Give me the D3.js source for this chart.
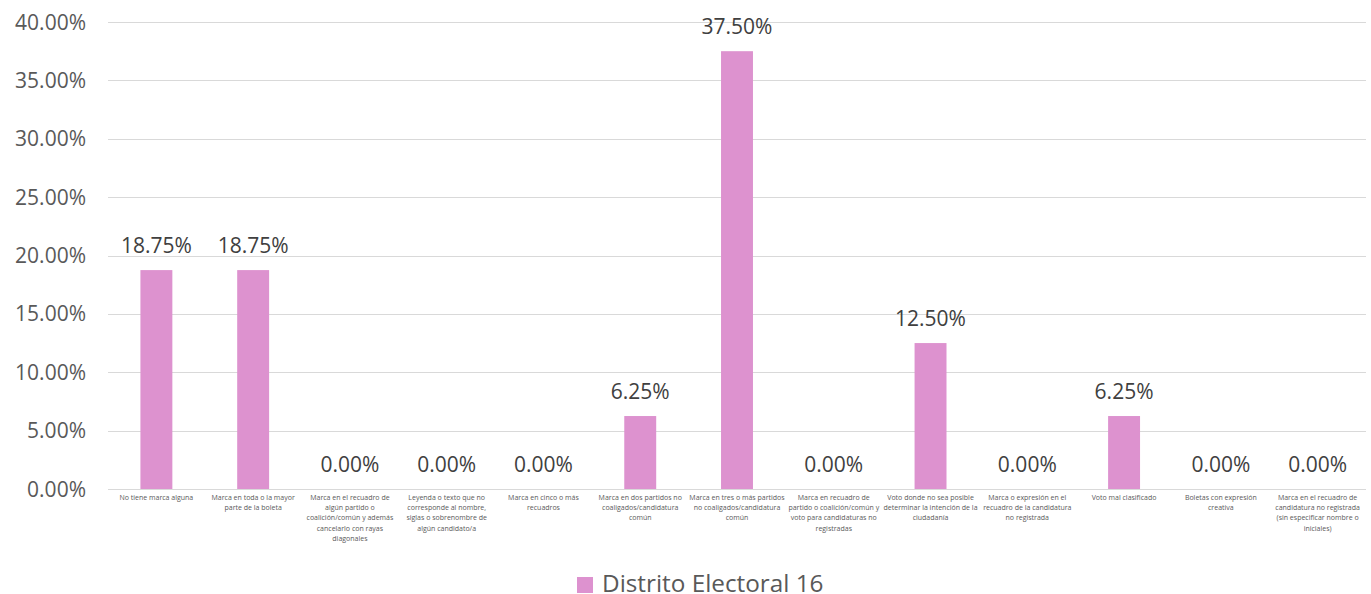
<!DOCTYPE html>
<html><head><meta charset="utf-8">
<script src="https://cdn.jsdelivr.net/npm/d3@7"></script>
<style>body{margin:0;background:#fff}</style>
</head><body>
<svg id="c" width="1371" height="594"></svg>
<script>
const categories = [
  ["No tiene marca alguna"],
  ["Marca en toda o la mayor","parte de la boleta"],
  ["Marca en el recuadro de","algún partido o","coalición/común y además","cancelarlo con rayas","diagonales"],
  ["Leyenda o texto que no","corresponde al nombre,","siglas o sobrenombre de","algún candidato/a"],
  ["Marca en cinco o más","recuadros"],
  ["Marca en dos partidos no","coaligados/candidatura","común"],
  ["Marca en tres o más partidos","no coaligados/candidatura","común"],
  ["Marca en recuadro de","partido o coalición/común y","voto para candidaturas no","registradas"],
  ["Voto donde no sea posible","determinar la intención de la","ciudadanía"],
  ["Marca o expresión en el","recuadro de la candidatura","no registrada"],
  ["Voto mal clasificado"],
  ["Boletas con expresión","creativa"],
  ["Marca en el recuadro de","candidatura no registrada","(sin especificar nombre o","iniciales)"]
];
const values = [0.1875,0.1875,0,0,0,0.0625,0.375,0,0.125,0,0.0625,0,0];
const yTicks = [0,0.05,0.10,0.15,0.20,0.25,0.30,0.35,0.40];
const seriesName = "Distrito Electoral 16";

const svg = d3.select("#c");
const pLeft=108, pRight=1366, pTop=22, pBottom=489;
const x = d3.scaleBand().domain(d3.range(categories.length)).range([pLeft,pRight]).paddingInner(0.67).paddingOuter(0.335);
const y = d3.scaleLinear().domain([0,0.4]).range([pBottom,pTop]);
const fmt = d3.format(".2%");
const font = "'Open Sans', 'Noto Sans', sans-serif";
const col = "#595959";

// gridlines
svg.append("g").selectAll("line").data(yTicks).join("line")
  .attr("x1",pLeft).attr("x2",pRight)
  .attr("y1",d=>Math.round(y(d))+0.5).attr("y2",d=>Math.round(y(d))+0.5)
  .attr("stroke","#d9d9d9").attr("stroke-width",1);

// y labels
svg.append("g").selectAll("text").data(yTicks).join("text")
  .attr("x",86).attr("y",d=>y(d)+7.5).attr("text-anchor","end")
  .attr("font-family",font).attr("font-size",21).attr("fill",col)
  .text(d=>fmt(d));

// bars
svg.append("g").selectAll("rect").data(values).join("rect")
  .attr("x",(d,i)=>x(i)).attr("width",x.bandwidth())
  .attr("y",d=>y(d)).attr("height",d=>pBottom-y(d))
  .attr("fill","#dd92cf");

// value labels
svg.append("g").selectAll("text").data(values).join("text")
  .attr("x",(d,i)=>x(i)+x.bandwidth()/2).attr("y",d=>y(d)-17)
  .attr("text-anchor","middle").attr("font-family",font).attr("font-size",21).attr("fill","#404040")
  .text(d=>fmt(d));

// category labels
const cg = svg.append("g").selectAll("text").data(categories).join("text")
  .attr("x",(d,i)=>x(i)+x.bandwidth()/2).attr("y",500)
  .attr("text-anchor","middle").attr("font-family",font).attr("font-size",7).attr("fill",col);
cg.selectAll("tspan").data(d=>d).join("tspan")
  .attr("x",function(){return this.parentNode.getAttribute("x");})
  .attr("dy",(d,i)=>i===0?0:10.2).text(d=>d);

// legend
svg.append("rect").attr("x",577).attr("y",577).attr("width",16).attr("height",16).attr("fill","#dd92cf");
svg.append("text").attr("x",602).attr("y",592).attr("font-family",font).attr("font-size",24.3).attr("fill",col).text(seriesName);
</script>
</body></html>
